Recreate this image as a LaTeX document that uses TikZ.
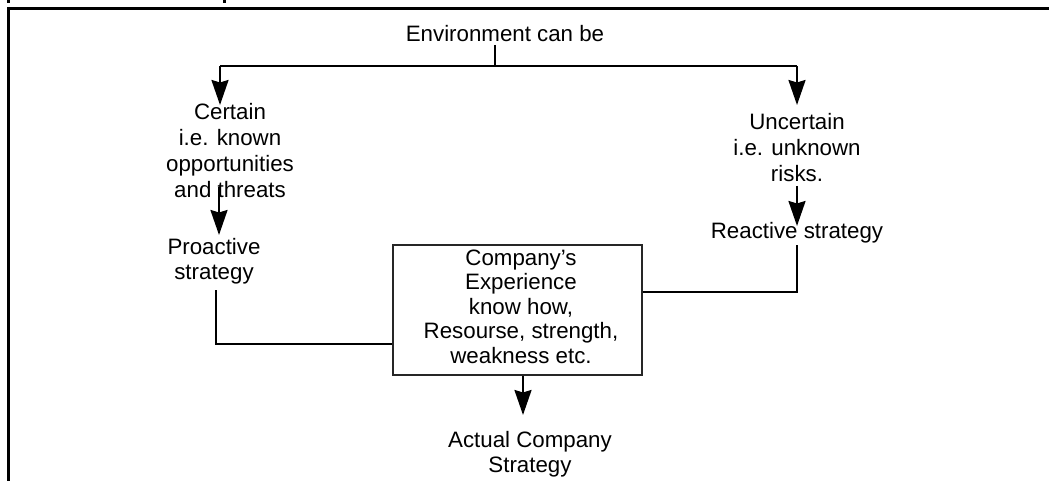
\documentclass[tikz,border=0pt]{standalone}
\usepackage{fontspec}
\setmainfont{Liberation Sans}
\usetikzlibrary{arrows.meta,calc}
\begin{document}
\begin{tikzpicture}[x=1pt,y=-1pt,
  txt/.style={inner sep=0pt, align=center, font=\fontsize{22.3}{26}\selectfont, anchor=base},
  boxtxt/.style={txt, font=\fontsize{22.3}{24.5}\selectfont},
  conn/.style={line width=2.2pt},
  arr/.style={conn, -{Stealth[length=25pt,width=17pt,inset=2.5pt]}},
  frame/.style={line width=3pt},
  boxst/.style={draw=black!85, line width=1.3pt, minimum width=249pt, minimum height=130pt, inner sep=0pt}]
\useasboundingbox (0,0) rectangle (1049,481);
% frame
\draw[frame] (7,8.5) -- (1049,8.5);
\draw[frame] (8.5,7) -- (8.5,481);
\fill (7,0) rectangle (10,3);
\fill (223,0) rectangle (226,3);
% texts (anchor = baseline of last line)
\node[txt] (env) at (505,42) {Environment can be};
\node[txt] (cert) at (230,198) {Certain\\i.e. known\\opportunities\\and threats};
\node[txt] (unc) at (797,182) {Uncertain\\i.e. unknown\\risks.};
\node[txt, font=\fontsize{22.3}{25}\selectfont] (pro) at (214,279) {Proactive\\strategy};
\node[txt] (rea) at (797,238) {Reactive strategy};
\node[boxst] (box) at (517.5,310) {};
\node[boxtxt] (boxt) at (521,363) {Company’s\\Experience\\know how,\\Resourse, strength,\\weakness etc.};
\node[txt, font=\fontsize{22.3}{25}\selectfont] (act) at (530,472) {Actual Company\\Strategy};
% coordinates
\coordinate (stemtop) at (495,45);
\coordinate (split) at (495,66);
\coordinate (tl) at (220,66);
\coordinate (tr) at (797,66);
\coordinate (tlend) at (220,105);
\coordinate (trend) at (797,105);
\coordinate (l2a) at (219,187);
\coordinate (l2b) at (219,235);
\coordinate (r2a) at (797,186);
\coordinate (r2b) at (797,226);
\coordinate (lt) at (216,290);
\coordinate (lb) at (216,344);
\coordinate (rt) at (797,245);
\coordinate (rb) at (797,292);
\coordinate (bend) at (523,415);
% connectors
\draw[conn] (stemtop) -- (split);
\draw[conn] (tl) -- (tr);
\draw[arr] (tl) -- (tlend);
\draw[arr] (tr) -- (trend);
\draw[arr] (l2a) -- (l2b);
\draw[arr] (r2a) -- (r2b);
\draw[conn] (lt) -- (lb) -- (box.west |- lb);
\draw[conn] (box.east |- rb) -- (rb) -- (rt);
\draw[arr] (box.south -| bend) -- (bend);
\end{tikzpicture}
\end{document}
